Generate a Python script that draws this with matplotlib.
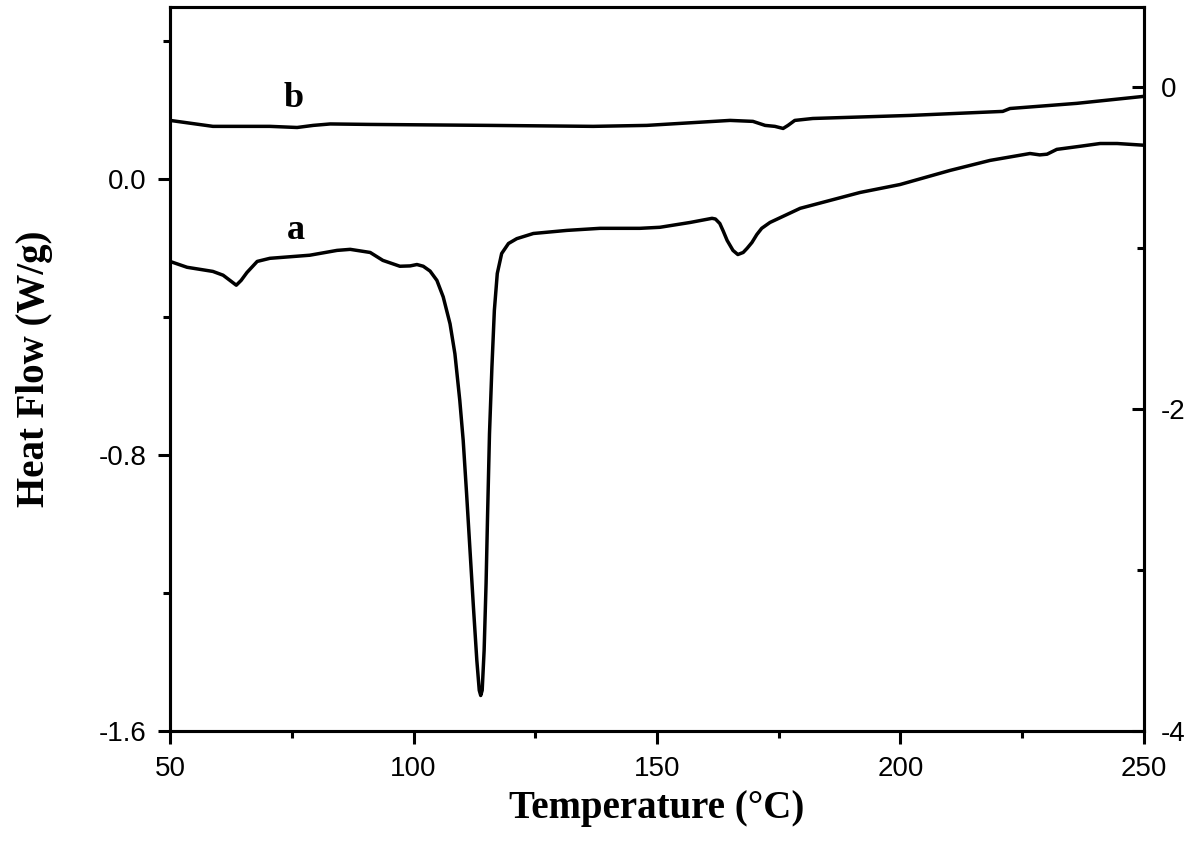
import matplotlib
matplotlib.use("Agg")
import matplotlib.pyplot as plt
from matplotlib.ticker import FixedLocator

# Curve a (left axis, W/g)
temp_a = [50.0, 53.5, 58.8, 60.9, 62.3, 63.6, 64.6, 65.8, 67.9, 70.5, 78.7, 84.3, 87.0,
          91.1, 93.7, 97.2, 99.3, 100.7, 102.0, 103.4, 104.8, 106.1, 107.5, 108.5, 109.5,
          110.2, 110.9, 111.6, 112.3, 113.0, 113.5, 113.8, 114.1, 114.5, 114.9, 115.2,
          115.6, 116.1, 116.6, 117.2, 118.1, 119.5, 121.2, 124.6, 131.5, 138.3, 146.5,
          150.6, 156.8, 161.3, 162.0, 162.9, 163.6, 164.4, 165.6, 166.6, 167.7, 168.5,
          169.5, 170.5, 171.5, 173.2, 179.4, 191.7, 199.9, 210.2, 218.4, 226.6, 228.6,
          230.1, 232.1, 236.9, 241.0, 244.5, 250.0]
heat_a = [-0.238, -0.255, -0.267, -0.278, -0.293, -0.307, -0.293, -0.270, -0.238, -0.229,
          -0.220, -0.206, -0.203, -0.212, -0.235, -0.252, -0.251, -0.247, -0.252, -0.266,
          -0.293, -0.341, -0.419, -0.506, -0.641, -0.757, -0.912, -1.076, -1.240, -1.395,
          -1.482, -1.497, -1.482, -1.366, -1.172, -0.979, -0.738, -0.544, -0.380, -0.273,
          -0.215, -0.186, -0.172, -0.157, -0.148, -0.142, -0.142, -0.139, -0.125, -0.113,
          -0.115, -0.128, -0.150, -0.177, -0.206, -0.218, -0.212, -0.200, -0.183, -0.160,
          -0.142, -0.125, -0.084, -0.038, -0.015, 0.026, 0.055, 0.075, 0.071, 0.073, 0.087,
          0.096, 0.104, 0.104, 0.099]

# Curve b (right axis)
temp_b = [50.0, 58.8, 70.5, 76.1, 79.4, 82.9, 91.1, 115.7, 136.9, 147.9, 165.0, 169.7,
          172.2, 174.2, 175.9, 176.9, 178.3, 182.0, 202.0, 221.0, 222.5, 236.2, 249.8]
heat_b = [-0.205, -0.242, -0.242, -0.249, -0.236, -0.227, -0.230, -0.236, -0.242, -0.236,
          -0.205, -0.211, -0.236, -0.242, -0.255, -0.236, -0.205, -0.193, -0.174, -0.149,
          -0.131, -0.099, -0.056]

left_ticks = [0.0, -0.8, -1.6]
right_ticks = [0, -2, -4]
x_ticks = [50, 100, 150, 200, 250]

tickfont = "Liberation Sans"
labelfont = "Liberation Serif"

fig = plt.figure(figsize=(12, 8.51), dpi=100)
ax = fig.add_axes([0.1417, 0.141, 0.9533 - 0.1417, 0.9918 - 0.141])
ax2 = ax.twinx()

lw = 2.5
ax.plot(temp_a, heat_a, color="black", lw=lw, solid_joinstyle="round")
ax2.plot(temp_b, heat_b, color="black", lw=lw, solid_joinstyle="round")

ax.set_xlim(50, 250)
ax.set_ylim(-1.6, 0.5)
ax2.set_ylim(-4, 0.5)

for sp in ax.spines.values():
    sp.set_linewidth(2.2)
for sp in ax2.spines.values():
    sp.set_linewidth(2.2)

ax.set_xticks(x_ticks)
ax.xaxis.set_minor_locator(FixedLocator([75, 125, 175, 225]))
ax.set_yticks(left_ticks)
ax.set_yticklabels(["0.0", "-0.8", "-1.6"])
ax.yaxis.set_minor_locator(FixedLocator([0.4, -0.4, -1.2]))
ax2.set_yticks(right_ticks)
ax2.set_yticklabels(["0", "-2", "-4"])
ax2.yaxis.set_minor_locator(FixedLocator([-1, -3]))

ax.tick_params(axis="both", which="major", direction="out", length=9, width=2.2,
               labelsize=20, pad=8, top=False, right=False)
ax.tick_params(axis="both", which="minor", direction="out", length=5, width=2.2,
               top=False, right=False)
ax.tick_params(axis="x", which="major", pad=9)
ax2.tick_params(axis="y", which="major", direction="in", length=9, width=2.2,
                labelsize=20, pad=12)
ax2.tick_params(axis="y", which="minor", direction="in", length=5, width=2.2)

for lab in ax.get_xticklabels() + ax.get_yticklabels() + ax2.get_yticklabels():
    lab.set_fontfamily(tickfont)

ax.set_xlabel("Temperature (°C)", fontfamily=labelfont, fontweight="bold",
              fontsize=28, labelpad=6)
ax.set_ylabel("Heat Flow (W/g)", fontfamily=labelfont, fontweight="bold",
              fontsize=28, labelpad=33)

ax.text(75.9, -0.148, "a", fontfamily=labelfont, fontweight="bold", fontsize=26,
        ha="center", va="center")
ax.text(75.3, 0.235, "b", fontfamily=labelfont, fontweight="bold", fontsize=26,
        ha="center", va="center")

fig.savefig("out.png", dpi=100)
